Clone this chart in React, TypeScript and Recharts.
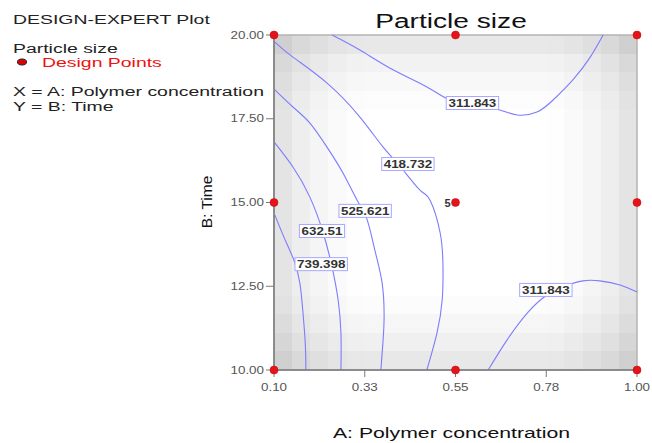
import React from 'react';
import {
  ComposedChart,
  Line,
  Scatter,
  XAxis,
  YAxis,
  ReferenceArea,
  ReferenceDot,
} from 'recharts';

// contour lines (A: polymer conc, B: time)
const c739 = [
  { x: 0.102, y: 14.63 }, { x: 0.127, y: 13.9 }, { x: 0.152, y: 13.19 },
  { x: 0.164, y: 12.6 }, { x: 0.169, y: 12.09 }, { x: 0.177, y: 10.9 }, { x: 0.179, y: 10 },
];
const c632 = [
  { x: 0.102, y: 16.78 }, { x: 0.147, y: 16.06 }, { x: 0.189, y: 15.16 }, { x: 0.222, y: 14.09 },
  { x: 0.244, y: 13.07 }, { x: 0.259, y: 12.09 }, { x: 0.266, y: 11.1 }, { x: 0.266, y: 10 },
];
const c525 = [
  { x: 0.102, y: 18.36 }, { x: 0.147, y: 17.85 }, { x: 0.189, y: 17.37 }, { x: 0.231, y: 16.66 },
  { x: 0.271, y: 15.88 }, { x: 0.306, y: 15.07 }, { x: 0.331, y: 14.48 }, { x: 0.35, y: 13.58 },
  { x: 0.368, y: 12.6 }, { x: 0.373, y: 11.58 }, { x: 0.37, y: 10.81 }, { x: 0.365, y: 10 },
];
const c418 = [
  { x: 0.102, y: 19.79 }, { x: 0.147, y: 19.34 }, { x: 0.231, y: 18.57 }, { x: 0.313, y: 17.55 },
  { x: 0.37, y: 16.66 }, { x: 0.412, y: 16.09 }, { x: 0.462, y: 15.37 }, { x: 0.487, y: 15.07 },
  { x: 0.512, y: 14.09 }, { x: 0.519, y: 13.07 }, { x: 0.517, y: 12.09 }, { x: 0.504, y: 11.1 },
  { x: 0.479, y: 10 },
];
const c311top = [
  { x: 0.244, y: 20 }, { x: 0.313, y: 19.55 }, { x: 0.395, y: 18.96 }, { x: 0.479, y: 18.45 },
  { x: 0.536, y: 18.06 }, { x: 0.6, y: 17.88 }, { x: 0.66, y: 17.76 }, { x: 0.703, y: 17.61 },
  { x: 0.752, y: 17.7 }, { x: 0.792, y: 18.06 }, { x: 0.841, y: 18.66 }, { x: 0.884, y: 19.34 },
  { x: 0.916, y: 20 },
];
const c311bottom = [
  { x: 0.631, y: 10 }, { x: 0.678, y: 10.9 }, { x: 0.73, y: 11.73 }, { x: 0.777, y: 12.24 },
  { x: 0.82, y: 12.5 }, { x: 0.866, y: 12.66 }, { x: 0.908, y: 12.66 }, { x: 0.958, y: 12.54 },
  { x: 1.0, y: 12.33 },
];
const contours = [c739, c632, c525, c418, c311top, c311bottom];

const contourLabels = [
  { x: 0.592, y: 17.97, text: '311.843' },
  { x: 0.432, y: 16.15, text: '418.732' },
  { x: 0.326, y: 14.75, text: '525.621' },
  { x: 0.219, y: 14.15, text: '632.51' },
  { x: 0.217, y: 13.16, text: '739.398' },
  { x: 0.774, y: 12.39, text: '311.843' },
];

const designPoints = [
  { x: 0.1, y: 10 }, { x: 0.1, y: 15 }, { x: 0.1, y: 20 },
  { x: 0.55, y: 10 }, { x: 0.55, y: 15, count: '5' }, { x: 0.55, y: 20 },
  { x: 1, y: 10 }, { x: 1, y: 15 }, { x: 1, y: 20 },
];

const xTicks = [0.1, 0.325, 0.55, 0.775, 1];
const xTickLabels = ['0.10', '0.33', '0.55', '0.78', '1.00'];
const yTicks = [10, 12.5, 15, 17.5, 20];
const yTickLabels = ['10.00', '12.50', '15.00', '17.50', '20.00'];

// blocky grey shading of the plot background
const colShades = [228, 238, 245, 250, 254, 255, 255, 255, 255, 255, 255, 255, 255, 255, 255, 254, 250, 245, 238, 228];
const rowAlpha = [0.09, 0.05, 0.028, 0.01, 0, 0, 0, 0, 0, 0, 0, 0, 0, 0, 0.012, 0.035, 0.06, 0.09];

const FONT = '"Liberation Sans", Arial, sans-serif';
const SX = 1.34;
const LINE = '#7c7cff';

const stepStops = (vals: number[], color: (v: number) => string, opacity: (v: number) => number) =>
  vals.flatMap((v, i) => [
    <stop key={`a${i}`} offset={i / vals.length} stopColor={color(v)} stopOpacity={opacity(v)} />,
    <stop key={`b${i}`} offset={(i + 1) / vals.length} stopColor={color(v)} stopOpacity={opacity(v)} />,
  ]);

const XTick = (props: any) => {
  const { x, y, index } = props;
  return (
    <g transform={`translate(${x},${y}) scale(${SX},1)`}>
      <text x={0} y={0} dy={12} textAnchor="middle" fontSize={10} fill="#555" fontFamily={FONT}>
        {xTickLabels[index]}
      </text>
    </g>
  );
};

const YTick = (props: any) => {
  const { x, y, index } = props;
  return (
    <g transform={`translate(${x},${y}) scale(${SX},1)`}>
      <text x={0} y={0} dy={3.5} textAnchor="end" fontSize={10} fill="#555" fontFamily={FONT}>
        {yTickLabels[index]}
      </text>
    </g>
  );
};

const ContourLabel = (props: any) => {
  const { cx, cy, text } = props;
  const w = text.length * 7.2 + 2;
  return (
    <g>
      <rect x={cx - w / 2} y={cy - 6.5} width={w} height={13} fill="#fff" stroke="#a8a8ff" strokeWidth={1} />
      <g transform={`translate(${cx},${cy + 4}) scale(${SX},1)`}>
        <text x={0} y={0} textAnchor="middle" fontSize={10} fill="#333" fontFamily={FONT} fontWeight={600}>
          {text}
        </text>
      </g>
    </g>
  );
};

const DesignDot = (props: any) => {
  const { cx, cy, payload } = props;
  return (
    <g>
      {payload.count && (
        <text x={cx - 5} y={cy + 4} textAnchor="end" fontSize={11} fontWeight={700} fill="#333" fontFamily={FONT}>
          {payload.count}
        </text>
      )}
      <circle cx={cx} cy={cy} r={4} fill="#e3141c" stroke="#c00" strokeWidth={0.5} />
    </g>
  );
};

const LS = 1.44;

const Overlay = () => (
  <svg width={652} height={443} style={{ position: 'absolute', left: 0, top: 0, pointerEvents: 'none' }}>
    <g fontFamily={FONT}>
      <g transform={`translate(13,24) scale(${LS},1)`}>
        <text fontSize={13.5} fill="#222">DESIGN-EXPERT Plot</text>
      </g>
      <g transform={`translate(13,53) scale(${LS},1)`}>
        <text fontSize={13.5} fill="#222">Particle size</text>
      </g>
      <ellipse cx={22} cy={62} rx={4.5} ry={3} fill="#d00" stroke="#222" strokeWidth={1} />
      <g transform={`translate(42,67) scale(${LS},1)`}>
        <text fontSize={13.5} fill="#ee1111">Design Points</text>
      </g>
      <g transform={`translate(13,96) scale(${LS},1)`}>
        <text fontSize={13.5} fill="#222">X = A: Polymer concentration</text>
      </g>
      <g transform={`translate(13,111) scale(${LS},1)`}>
        <text fontSize={13.5} fill="#222">Y = B: Time</text>
      </g>
      <g transform={`translate(451,28) scale(${SX},1)`}>
        <text textAnchor="middle" fontSize={21} fill="#111">Particle size</text>
      </g>
      <g transform={`translate(451.5,438) scale(1.37,1)`}>
        <text textAnchor="middle" fontSize={15.5} fill="#111">A: Polymer concentration</text>
      </g>
      <g transform="translate(212,202) rotate(-90)">
        <text textAnchor="middle" fontSize={15.5} fill="#111">B: Time</text>
      </g>
    </g>
  </svg>
);

export default function App() {
  return (
    <div style={{ position: 'absolute', left: 0, top: 0, width: 652, height: 443, background: '#fff' }}>
      <ComposedChart width={652} height={443} margin={{ top: 35, right: 15, bottom: 43, left: 214 }}>
        <defs>
          <linearGradient id="bgCols" x1="0" y1="0" x2="1" y2="0">
            {stepStops(colShades, (v) => `rgb(${v},${v},${v})`, () => 1)}
          </linearGradient>
          <linearGradient id="bgRows" x1="0" y1="0" x2="0" y2="1">
            {stepStops(rowAlpha, () => '#000', (v) => v)}
          </linearGradient>
        </defs>
        <XAxis
          type="number"
          dataKey="x"
          domain={[0.1, 1]}
          ticks={xTicks}
          tick={<XTick />}
          tickSize={7}
          height={30}
          axisLine={{ stroke: '#7a7a7a', strokeWidth: 1.5 }}
          tickLine={{ stroke: '#7a7a7a' }}
        />
        <YAxis
          type="number"
          dataKey="y"
          domain={[10, 20]}
          ticks={yTicks}
          tick={<YTick />}
          tickSize={8}
          width={60}
          axisLine={{ stroke: '#7a7a7a', strokeWidth: 1.5 }}
          tickLine={{ stroke: '#7a7a7a' }}
        />
        <ReferenceArea x1={0.1} x2={1} y1={10} y2={20} fill="url(#bgCols)" fillOpacity={1} stroke="none" />
        <ReferenceArea x1={0.1} x2={1} y1={10} y2={20} fill="url(#bgRows)" fillOpacity={1} stroke="#b4b4b4" strokeWidth={1.5} />
        {contours.map((d, i) => (
          <Line
            key={i}
            data={d}
            dataKey="y"
            type="natural"
            stroke={LINE}
            strokeWidth={1.1}
            dot={false}
            activeDot={false}
            isAnimationActive={false}
          />
        ))}
        {contourLabels.map((l, i) => (
          <ReferenceDot
            key={i}
            x={l.x}
            y={l.y}
            r={0}
            shape={(p: any) => <ContourLabel {...p} text={l.text} />}
          />
        ))}
        <Scatter data={designPoints} dataKey="y" shape={<DesignDot />} isAnimationActive={false} />
      </ComposedChart>
      <Overlay />
    </div>
  );
}
